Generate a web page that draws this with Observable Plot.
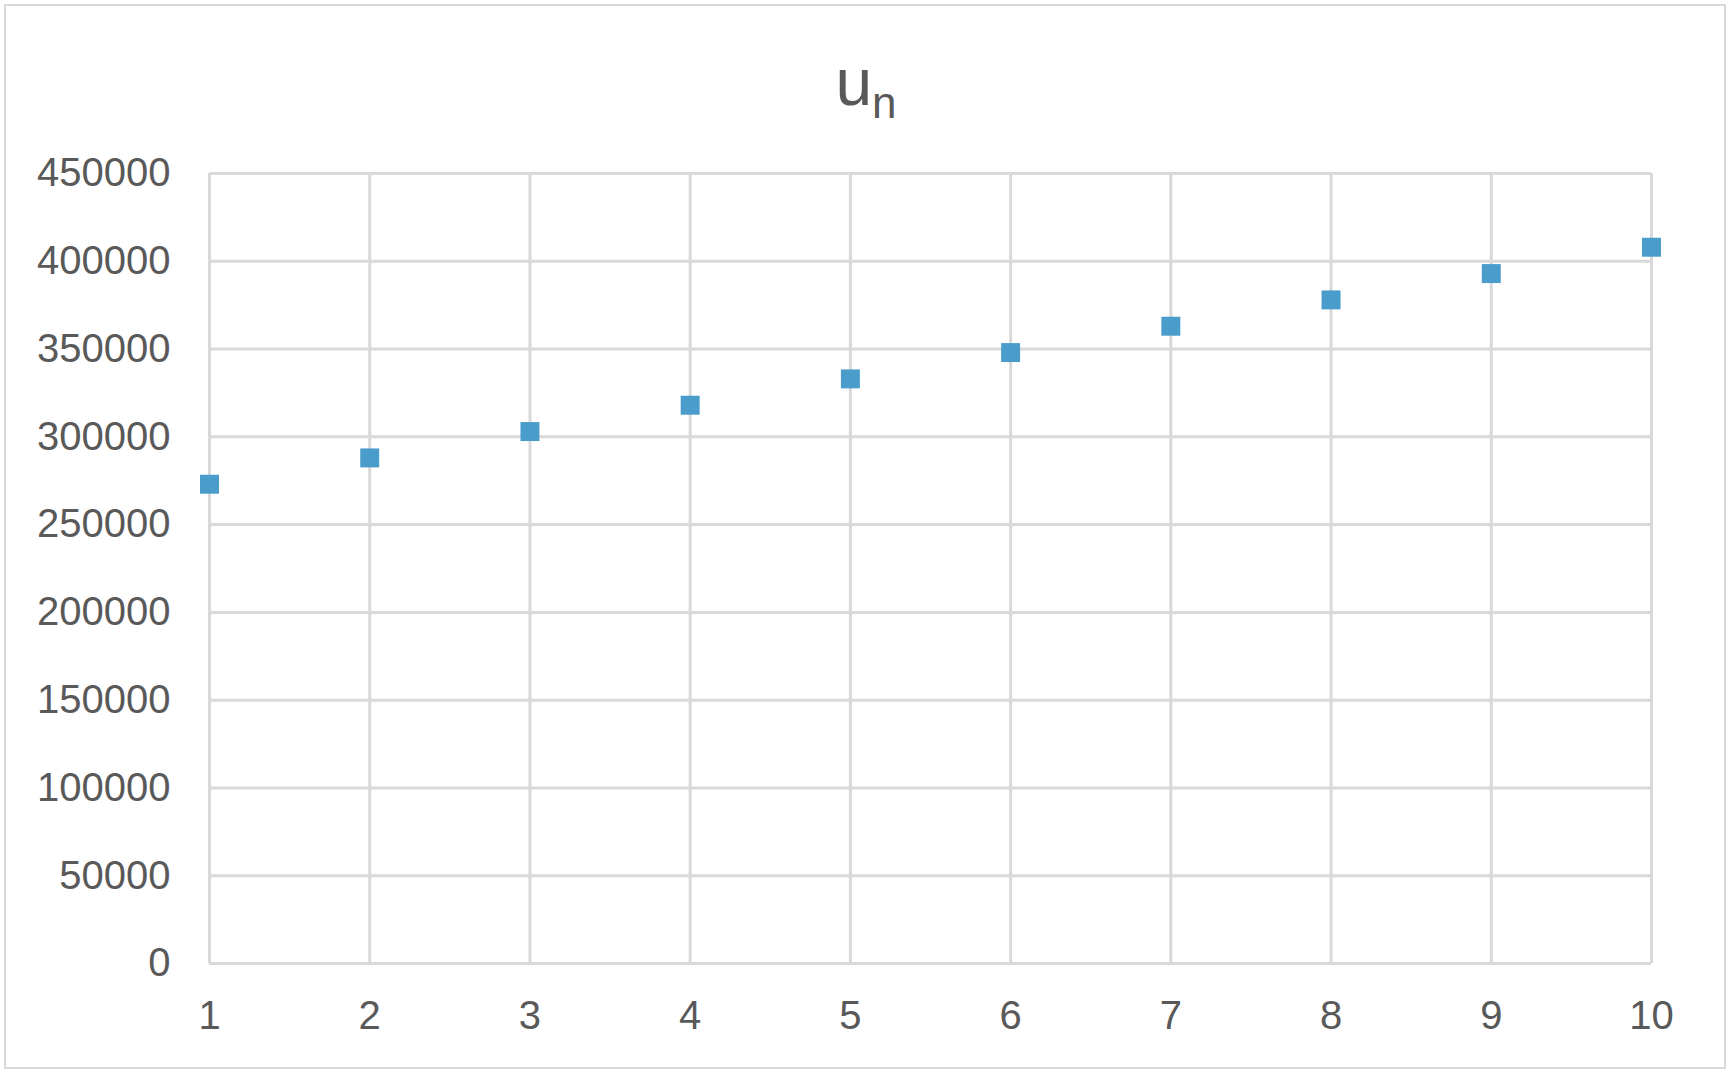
<!DOCTYPE html>
<html>
<head>
<meta charset="utf-8">
<script src="https://cdn.jsdelivr.net/npm/d3@7"></script>
<script src="https://cdn.jsdelivr.net/npm/@observablehq/plot@0.6"></script>
<style>
  html, body { margin: 0; padding: 0; background: #fff; }
  #wrap { position: relative; width: 1732px; height: 1077px; overflow: hidden; font-family: "Liberation Sans", Arial, Helvetica, sans-serif; }
  #border { position: absolute; left: 4px; top: 4px; width: 1718px; height: 1061px; border: 2px solid #d9d9d9; }
  #title { position: absolute; left: 0; top: 49px; width: 1732px; text-align: center; font-size: 66px; line-height: 66px; color: #595959; }
  #title .sub { font-size: 44px; position: relative; top: 13px; }
  #chart { position: absolute; left: 0; top: 0; }
</style>
</head>
<body>
<div id="wrap">
  <div id="border"></div>
  <div id="title">u<span class="sub">n</span></div>
  <div id="chart"></div>
</div>
<script>
const n = [1, 2, 3, 4, 5, 6, 7, 8, 9, 10];
const u = [273000, 288000, 303000, 318000, 333000, 348000, 363000, 378000, 393000, 408000];
const yTicks = [0, 50000, 100000, 150000, 200000, 250000, 300000, 350000, 400000, 450000];
const xTicks = [1, 2, 3, 4, 5, 6, 7, 8, 9, 10];

const data = n.map((d, i) => ({n: d, u: u[i]}));

const chart = Plot.plot({
  width: 1732,
  height: 1077,
  marginLeft: 209,
  marginRight: 81,
  marginTop: 173,
  marginBottom: 114,
  style: {background: "transparent", fontFamily: "'Liberation Sans', Arial, Helvetica, sans-serif", fontSize: "40px", color: "#595959"},
  x: {domain: [1, 10]},
  y: {domain: [0, 450000]},
  marks: [
    Plot.gridX(xTicks, {stroke: "#d9d9d9", strokeOpacity: 1, strokeWidth: 3}),
    Plot.gridY(yTicks, {stroke: "#d9d9d9", strokeOpacity: 1, strokeWidth: 3}),
    Plot.axisY(yTicks, {tickSize: 0, tickPadding: 39, tickFormat: d => String(d), fill: "#595959", label: null}),
    Plot.axisX(xTicks, {tickSize: 0, tickPadding: 37, tickFormat: d => String(d), fill: "#595959", label: null}),
    Plot.dot(data, {x: "n", y: "u", symbol: "square", r: 10.7, fill: "#4a9dcb", stroke: "none"})
  ]
});
document.getElementById("chart").appendChild(chart);
</script>
</body>
</html>
